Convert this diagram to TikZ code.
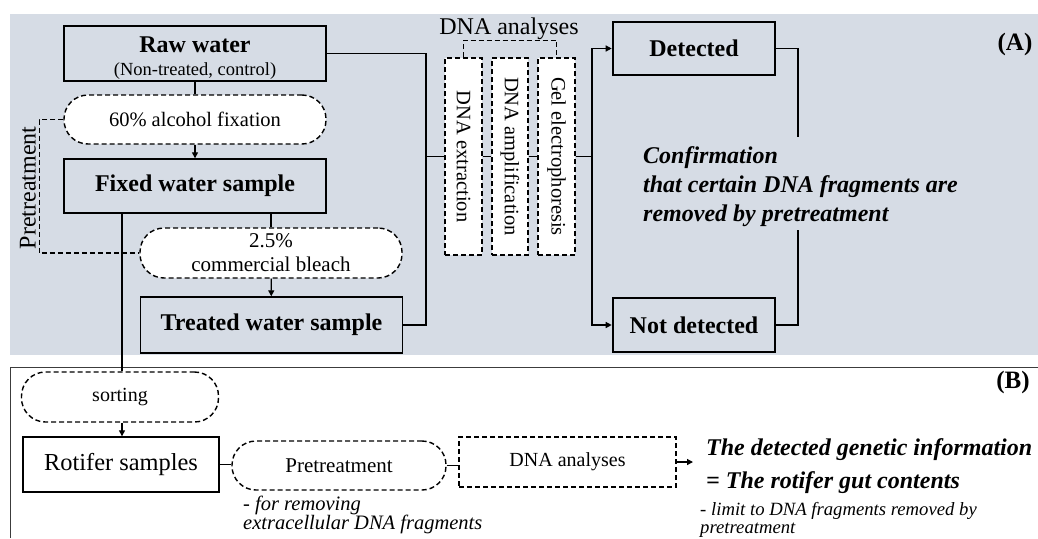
\documentclass[tikz,border=0pt]{standalone}
\usepackage{fontspec}
\setmainfont{Liberation Serif}
\usetikzlibrary{arrows.meta}
\definecolor{panelfill}{RGB}{214,220,229}
\definecolor{framegray}{RGB}{60,60,60}
\newcommand\fsz[2]{\fontsize{#1}{#2}\selectfont}
\tikzset{
  solidbox/.style={draw, line width=1.4pt, inner sep=0pt, align=center},
  strongbox/.style={draw, line width=2.6pt, inner sep=0pt, align=center},
  stadium/.style={draw, fill=white, line width=1.4pt, dash pattern=on 5pt off 3pt,
    rounded corners=24pt, inner sep=0pt, align=center},
  dashbox/.style={draw, fill=white, line width=1.4pt, dash pattern=on 5pt off 3pt,
    inner sep=0pt, align=center},
  link/.style={line width=1.3pt},
  dlink/.style={line width=1.3pt, dash pattern=on 5pt off 3pt},
  arr/.style={link, -{Triangle[length=6pt,width=6pt]}},
  titlefont/.style={font=\fsz{24}{28}\bfseries},
}
\begin{document}
\begin{tikzpicture}[x=1pt,y=-1pt]
\useasboundingbox (0,0) rectangle (1038,538);
% panel backgrounds
\fill[panelfill] (10,14) rectangle (1038,355);
\draw[framegray, line width=1pt] (10,538) -- (10,367) -- (1038,367);

% ---------- panel (A) ----------
\node[solidbox, minimum width=262pt, minimum height=55pt, font=\fsz{18.5}{23}] (raw) at (195,53.5)
  {\rule{0pt}{24pt}{\fsz{24}{23}\bfseries Raw water}\\(Non-treated,\ control)};
\node[stadium, minimum width=262pt, minimum height=49pt, font=\fsz{20.5}{24}] (fix60) at (195,119.5)
  {60\% alcohol\ fixation};
\node[solidbox, titlefont, minimum width=262pt, minimum height=54pt] (fixed) at (195,186)
  {Fixed water sample};
\node[stadium, minimum width=262pt, minimum height=50pt, font=\fsz{21}{24}] (bleach) at (271,253)
  {2.5\%\\commercial\ bleach};
\node[solidbox, titlefont, minimum width=262pt, minimum height=56pt] (treated) at (271.5,325)
  {Treated water sample};
\node[rotate=90, font=\fsz{24}{28}] (pretlabel) at (28,188) {Pretreatment};

\node[dashbox, minimum width=37pt, minimum height=197pt, font=\fsz{20.5}{24}] (ext) at (463.5,156.5)
  {\rotatebox[origin=c]{-90}{DNA extraction}};
\node[dashbox, minimum width=36pt, minimum height=197pt, font=\fsz{20.5}{24}] (amp) at (510,156.5)
  {\rotatebox[origin=c]{-90}{DNA amplification}};
\node[dashbox, minimum width=37pt, minimum height=197pt, font=\fsz{20.5}{24}] (gel) at (556.5,156.5)
  {\rotatebox[origin=c]{-90}{Gel electrophoresis}};
\node[font=\fsz{24}{28}] (dnalabel) at (509,29) {DNA analyses};

\node[strongbox, titlefont, minimum width=162pt, minimum height=53pt] (det) at (694,48.5) {Detected};
\node[strongbox, titlefont, minimum width=162pt, minimum height=54pt] (notdet) at (694,325) {Not detected};
\node[anchor=base west, align=left, font=\fsz{24}{29}\bfseries\itshape, inner sep=0pt] (conf) at (643,221)
  {Confirmation\\that certain DNA fragments are\\removed by pretreatment};
\node[font=\fsz{25}{28}\bfseries] (labA) at (1015,44) {(A)};

% connectors of panel (A)
\draw[link] (raw) -- (fix60);
\draw[arr] (fix60) -- (fixed);
\draw[link] (fixed.south -| bleach) -- (bleach);
\draw[arr] (bleach) -- (treated);
\draw[dlink] (fix60.west) -- ++(-24,0) |- (bleach.west);

\coordinate (jin) at (426,156.5);
\coordinate (jout) at (592,156.5);
\draw[link] (raw.east) -| (jin) |- (treated.east);
\draw[link] (jin) -- (ext.west);
\draw[link] (ext) -- (amp);
\draw[link] (amp) -- (gel);
\draw[link] (gel.east) -- (jout);
\draw[arr] (jout) |- (det.west);
\draw[arr] (jout) |- (notdet.west);
\draw[dlink] (ext.north) -- ++(0,-17) -| (gel.north);

\coordinate (topend) at (798,137);
\coordinate (botend) at (798,230);
\draw[link] (det.east) -| (topend);
\draw[link] (notdet.east) -| (botend);

% ---------- panel (B) ----------
\node[stadium, minimum width=197pt, minimum height=50pt, font=\fsz{20}{24}] (sorting) at (120,397) {sorting};
\node[solidbox, fill=white, minimum width=196pt, minimum height=55pt, font=\fsz{24.4}{28}] (rotifer) at (121,464.5)
  {Rotifer samples};
\node[stadium, minimum width=214pt, minimum height=49pt, font=\fsz{21}{24}] (pre) at (339,465.5) {Pretreatment};
\node[dashbox, minimum width=217pt, minimum height=50pt, font=\fsz{20}{24}] (dnab) at (567.5,462) {DNA analyses};
\node[anchor=base west, align=left, font=\fsz{24}{33}\bfseries\itshape, inner sep=0pt] (result) at (706,488)
  {The detected genetic information\\= The rotifer gut contents};
\node[anchor=base west, align=left, font=\fsz{20.5}{19}\itshape, inner sep=0pt] (note1) at (243,529)
  {- for removing\\extracellular DNA fragments};
\node[anchor=base west, align=left, font=\fsz{18.7}{18}\itshape, inner sep=0pt] (note2) at (700,533)
  {- limit to DNA fragments removed by\\pretreatment};
\node[font=\fsz{25}{28}\bfseries] (labB) at (1013,382) {(B)};

% connectors of panel (B)
\coordinate (sortx) at (122,0);
\draw[link] (fixed.south -| sortx) -- (sorting.north -| sortx);
\draw[arr] (sorting.south -| sortx) -- (rotifer.north -| sortx);
\draw[link] (rotifer.east) -- (rotifer.east -| pre.west);
\draw[link] (pre.east) -- (pre.east -| dnab.west);
\draw[arr] (dnab.east) -- ([xshift=-13pt]result.west |- dnab.east);
\end{tikzpicture}
\end{document}
